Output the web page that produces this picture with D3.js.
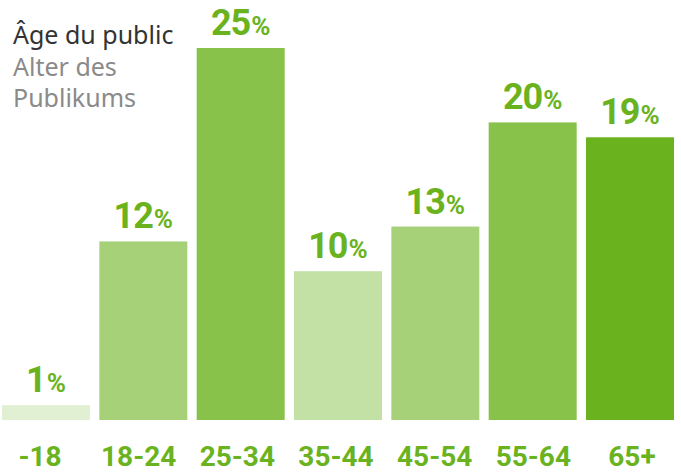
<!DOCTYPE html>
<html>
<head>
<meta charset="utf-8">
<script src="https://cdn.jsdelivr.net/npm/d3@7/dist/d3.min.js"></script>
<style>
  html, body { margin: 0; padding: 0; background: #fff; }
  svg { display: block; }
</style>
</head>
<body>
<svg id="chart" width="681" height="473"></svg>
<script>
// ---- data ----
const categories = ["-18", "18-24", "25-34", "35-44", "45-54", "55-64", "65+"];
const values = [1, 12, 25, 10, 13, 20, 19];
const titleLines = ["Âge du public"];
const subtitleLines = ["Alter des", "Publikums"];

// ---- style (per-bar shade of the base green) ----
const shades = [0.2, 0.6, 0.8, 0.4, 0.6, 0.8, 1.0];
const green = "#6ab31e";

const svg = d3.select("#chart");

const x = d3.scaleBand()
  .domain(categories)
  .range([2, 674])
  .paddingInner(0.096)
  .paddingOuter(0);

const xLabel = d3.scalePoint()
  .domain(categories)
  .range([40, 632]);

const y = d3.scaleLinear()
  .domain([0, 25])
  .range([420, 48]);

const mix = d3.interpolateRgb("#ffffff", green);

svg.append("g").selectAll("rect")
  .data(values)
  .join("rect")
  .attr("x", (d, i) => x(categories[i]))
  .attr("y", d => y(d))
  .attr("width", x.bandwidth())
  .attr("height", d => y(0) - y(d))
  .attr("fill", (d, i) => mix(shades[i]));

// value labels
const vl = svg.append("g").selectAll("text")
  .data(values)
  .join("text")
  .attr("x", (d, i) => x(categories[i]) + x.bandwidth() / 2)
  .attr("y", d => y(d) - 13)
  .attr("text-anchor", "middle")
  .attr("fill", green)
  .style("font-family", "Roboto, 'DejaVu Sans', sans-serif")
  .style("font-weight", "700");
vl.append("tspan")
  .style("font-size", "36px")
  .style("letter-spacing", "-1px")
  .text(d => d);
vl.append("tspan")
  .attr("dx", 1)
  .style("font-size", "26px")
  .text("%");

// category labels
svg.append("g").selectAll("text")
  .data(categories)
  .join("text")
  .attr("x", d => xLabel(d))
  .attr("y", 466)
  .attr("text-anchor", "middle")
  .attr("fill", green)
  .style("font-family", "Roboto, 'DejaVu Sans', sans-serif")
  .style("font-weight", "700")
  .style("font-size", "28px")
  .text(d => d);

// title
const t = svg.append("g")
  .style("font-family", "'Noto Sans', 'Open Sans', sans-serif")
  .style("font-size", "25px");
t.selectAll("text.title")
  .data(titleLines)
  .join("text")
  .attr("class", "title")
  .attr("x", 13)
  .attr("y", (d, i) => 44 + i * 31.5)
  .attr("fill", "#333333")
  .text(d => d);
t.selectAll("text.sub")
  .data(subtitleLines)
  .join("text")
  .attr("class", "sub")
  .attr("x", 13)
  .attr("y", (d, i) => 44 + (titleLines.length + i) * 31.5)
  .attr("fill", "#8a8a8a")
  .text(d => d);
</script>
</body>
</html>
